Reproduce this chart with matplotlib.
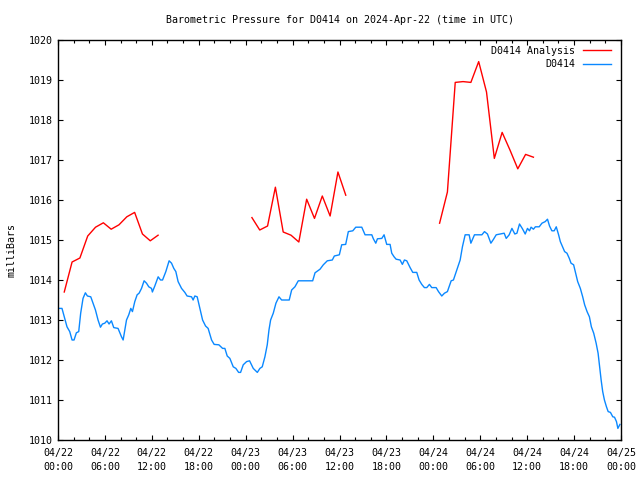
import matplotlib
matplotlib.use("Agg")
import matplotlib.pyplot as plt
from matplotlib.ticker import MultipleLocator, FixedLocator, FixedFormatter

# ---- data (hours since 2024-04-22 00:00 UTC, pressure in mb) ----
obs_hours = [0.22, 0.51, 0.86, 1.15, 1.5, 1.8, 2.05, 2.35, 2.65, 2.9, 3.2, 3.5, 3.76, 4.19, 4.48,
             4.79, 5.12, 5.43, 5.68, 5.98, 6.27, 6.53, 6.83, 7.13, 7.68, 8.12, 8.33, 8.54, 8.76,
             9.05, 9.31, 9.52, 9.82, 10.12, 10.37, 10.68, 11.01, 11.32, 11.61, 11.96, 12.07, 12.38,
             12.81, 13.11, 13.37, 13.79, 14.21, 14.52, 14.81, 15.07, 15.36, 15.8, 16.22, 16.51,
             17.08, 17.28, 17.5, 17.8, 18.14, 18.49, 18.87, 19.2, 19.64, 19.97, 20.57, 21.05,
             21.34, 21.64, 21.98, 22.41, 22.75, 23.1, 23.35, 23.69, 24.12, 24.5, 24.97, 25.49,
             25.82, 26.12, 26.46, 26.76, 26.98, 27.19, 27.53, 27.87, 28.26, 28.6, 29.57, 29.88,
             30.3, 30.73, 32.57, 32.87, 33.51, 33.93, 34.44, 35.08, 35.34, 35.98, 36.28, 36.79,
             37.13, 37.7, 38.08, 38.85, 39.27, 40.13, 40.33, 40.64, 40.85, 41.41, 41.7, 42.04,
             42.47, 42.68, 42.98, 43.24, 43.75, 44.04, 44.3, 44.6, 45.03, 45.37, 45.88, 46.18,
             46.52, 46.86, 47.16, 47.5, 47.8, 48.36, 48.66, 49.08, 49.42, 49.8, 50.28, 50.57,
             51.0, 51.43, 51.72, 52.07, 52.58, 52.8, 53.26, 54.21, 54.54, 54.92, 55.36, 55.7,
             56.04, 57.06, 57.32, 57.7, 58.05, 58.42, 58.69, 59.02, 59.4, 59.75, 60.04, 60.3,
             60.5, 60.8, 61.05, 61.54, 61.89, 62.31, 62.6, 62.86, 63.16, 63.46, 63.72, 64.02,
             64.24, 64.53, 64.79, 65.09, 65.39, 65.61, 65.94, 66.25, 66.46, 66.8, 67.1, 67.35,
             67.66, 67.96, 68.21, 68.51, 68.82, 69.07, 69.24, 69.46, 69.66, 69.88, 70.14, 70.36,
             70.65, 70.95, 71.17, 71.42, 71.6, 71.86]
obs_pressure = [1013.29, 1013.29, 1013.04, 1012.83, 1012.71, 1012.5, 1012.5, 1012.68, 1012.71,
                1013.17, 1013.54, 1013.68, 1013.6, 1013.58, 1013.42, 1013.25, 1013.0, 1012.82,
                1012.9, 1012.92, 1012.98, 1012.9, 1012.98, 1012.81, 1012.79, 1012.58, 1012.5,
                1012.75, 1013.0, 1013.13, 1013.29, 1013.21, 1013.46, 1013.63, 1013.67, 1013.79,
                1013.98, 1013.92, 1013.83, 1013.79, 1013.7, 1013.85, 1014.08, 1014.0, 1014.0,
                1014.21, 1014.48, 1014.42, 1014.29, 1014.21, 1013.96, 1013.79, 1013.69, 1013.6,
                1013.58, 1013.5, 1013.6, 1013.58, 1013.29, 1013.0, 1012.85, 1012.79, 1012.5,
                1012.39, 1012.38, 1012.29, 1012.29, 1012.1, 1012.04, 1011.83, 1011.79, 1011.69,
                1011.69, 1011.88, 1011.96, 1011.98, 1011.79, 1011.69, 1011.79, 1011.83, 1012.08,
                1012.38, 1012.75, 1013.0, 1013.17, 1013.42, 1013.58, 1013.5, 1013.5, 1013.75,
                1013.83, 1013.98, 1013.98, 1014.18, 1014.27, 1014.38, 1014.48, 1014.5, 1014.6,
                1014.63, 1014.88, 1014.89, 1015.21, 1015.23, 1015.32, 1015.32, 1015.13, 1015.13,
                1015.03, 1014.92, 1015.03, 1015.04, 1015.13, 1014.89, 1014.89, 1014.67, 1014.58,
                1014.52, 1014.5, 1014.39, 1014.5, 1014.48, 1014.31, 1014.19, 1014.19, 1014.0,
                1013.89, 1013.81, 1013.81, 1013.89, 1013.81, 1013.81, 1013.71, 1013.6, 1013.67,
                1013.71, 1013.98, 1014.0, 1014.25, 1014.5, 1014.83, 1015.13, 1015.13, 1014.92,
                1015.13, 1015.13, 1015.21, 1015.15, 1014.92, 1015.02, 1015.13, 1015.17, 1015.04,
                1015.13, 1015.29, 1015.15, 1015.17, 1015.4, 1015.28, 1015.15, 1015.29, 1015.23,
                1015.32, 1015.27, 1015.33, 1015.33, 1015.42, 1015.46, 1015.52, 1015.35, 1015.23,
                1015.23, 1015.33, 1015.13, 1014.96, 1014.83, 1014.71, 1014.67, 1014.54, 1014.42,
                1014.38, 1014.13, 1013.96, 1013.79, 1013.58, 1013.38, 1013.21, 1013.08, 1012.83,
                1012.67, 1012.42, 1012.17, 1011.88, 1011.5, 1011.21, 1011.0, 1010.83, 1010.71,
                1010.69, 1010.58, 1010.57, 1010.46, 1010.29, 1010.39]

ana_hours_1 = [0.8, 1.8, 2.8, 3.8, 4.8, 5.8, 6.8, 7.8, 8.8, 9.8, 10.8, 11.8, 12.8]
ana_press_1 = [1013.7, 1014.45, 1014.55, 1015.1, 1015.32, 1015.43, 1015.27, 1015.38, 1015.58,
               1015.69, 1015.15, 1014.98, 1015.12]
ana_hours_2 = [24.8, 25.8, 26.8, 27.8, 28.8, 29.8, 30.8, 31.8, 32.8, 33.8, 34.8, 35.8, 36.8]
ana_press_2 = [1015.56, 1015.25, 1015.35, 1016.32, 1015.2, 1015.12, 1014.95, 1016.02, 1015.54,
               1016.1, 1015.6, 1016.7, 1016.12]
ana_hours_3 = [48.8, 49.8, 50.8, 51.8, 52.8, 53.8, 54.8, 55.8, 56.8, 57.8, 58.8, 59.8, 60.8]
ana_press_3 = [1015.42, 1016.2, 1018.94, 1018.96, 1018.94, 1019.46, 1018.7, 1017.04, 1017.69,
               1017.25, 1016.78, 1017.14, 1017.07]

tick_hours = [0, 6, 12, 18, 24, 30, 36, 42, 48, 54, 60, 66, 72]
tick_labels = ["04/22\n00:00", "04/22\n06:00", "04/22\n12:00", "04/22\n18:00",
               "04/23\n00:00", "04/23\n06:00", "04/23\n12:00", "04/23\n18:00",
               "04/24\n00:00", "04/24\n06:00", "04/24\n12:00", "04/24\n18:00",
               "04/25\n00:00"]

FONT = "DejaVu Sans Mono"
FS = 7.2
RED = "#ff0000"
BLUE = "#0a88ff"

fig = plt.figure(figsize=(6.4, 4.8), dpi=100)
ax = fig.add_axes([58 / 640, 1 - 440 / 480, 563 / 640, 400 / 480])

ax.plot(ana_hours_1, ana_press_1, color=RED, lw=1.0, label="D0414 Analysis")
ax.plot(ana_hours_2, ana_press_2, color=RED, lw=1.0)
ax.plot(ana_hours_3, ana_press_3, color=RED, lw=1.0)
ax.plot(obs_hours, obs_pressure, color=BLUE, lw=1.0, label="D0414")

ax.set_xlim(0, 72)
ax.set_ylim(1010, 1020)
ax.xaxis.set_major_locator(FixedLocator(tick_hours))
ax.xaxis.set_major_formatter(FixedFormatter(tick_labels))
ax.xaxis.set_minor_locator(MultipleLocator(2))
ax.yaxis.set_major_locator(MultipleLocator(1))

ax.tick_params(which="both", direction="in", top=True, right=True, width=0.8, colors="black")
ax.tick_params(which="major", length=3.5)
ax.tick_params(which="minor", length=2)
ax.tick_params(axis="x", which="major", pad=6)
ax.tick_params(axis="y", which="major", pad=4)
for lab in ax.get_xticklabels() + ax.get_yticklabels():
    lab.set_fontfamily(FONT)
    lab.set_fontsize(FS)
for lab in ax.get_xticklabels():
    lab.set_linespacing(1.4)
for s in ax.spines.values():
    s.set_linewidth(1.0)
    s.set_color("black")

ax.set_title("Barometric Pressure for D0414 on 2024-Apr-22 (time in UTC)",
             fontfamily=FONT, fontsize=FS, pad=12)
ax.set_ylabel("milliBars", fontfamily=FONT, fontsize=FS)
ax.yaxis.set_label_coords(-0.073, 0.475)

leg = ax.legend(loc="upper right", bbox_to_anchor=(1 - 8 / 563, 1 - 4 / 400),
                frameon=False, markerfirst=False,
                prop={"family": FONT, "size": FS}, handlelength=2.8,
                handletextpad=0.8, labelspacing=0.35, borderaxespad=0.0, borderpad=0.2)

fig.savefig("out.png", dpi=100)
